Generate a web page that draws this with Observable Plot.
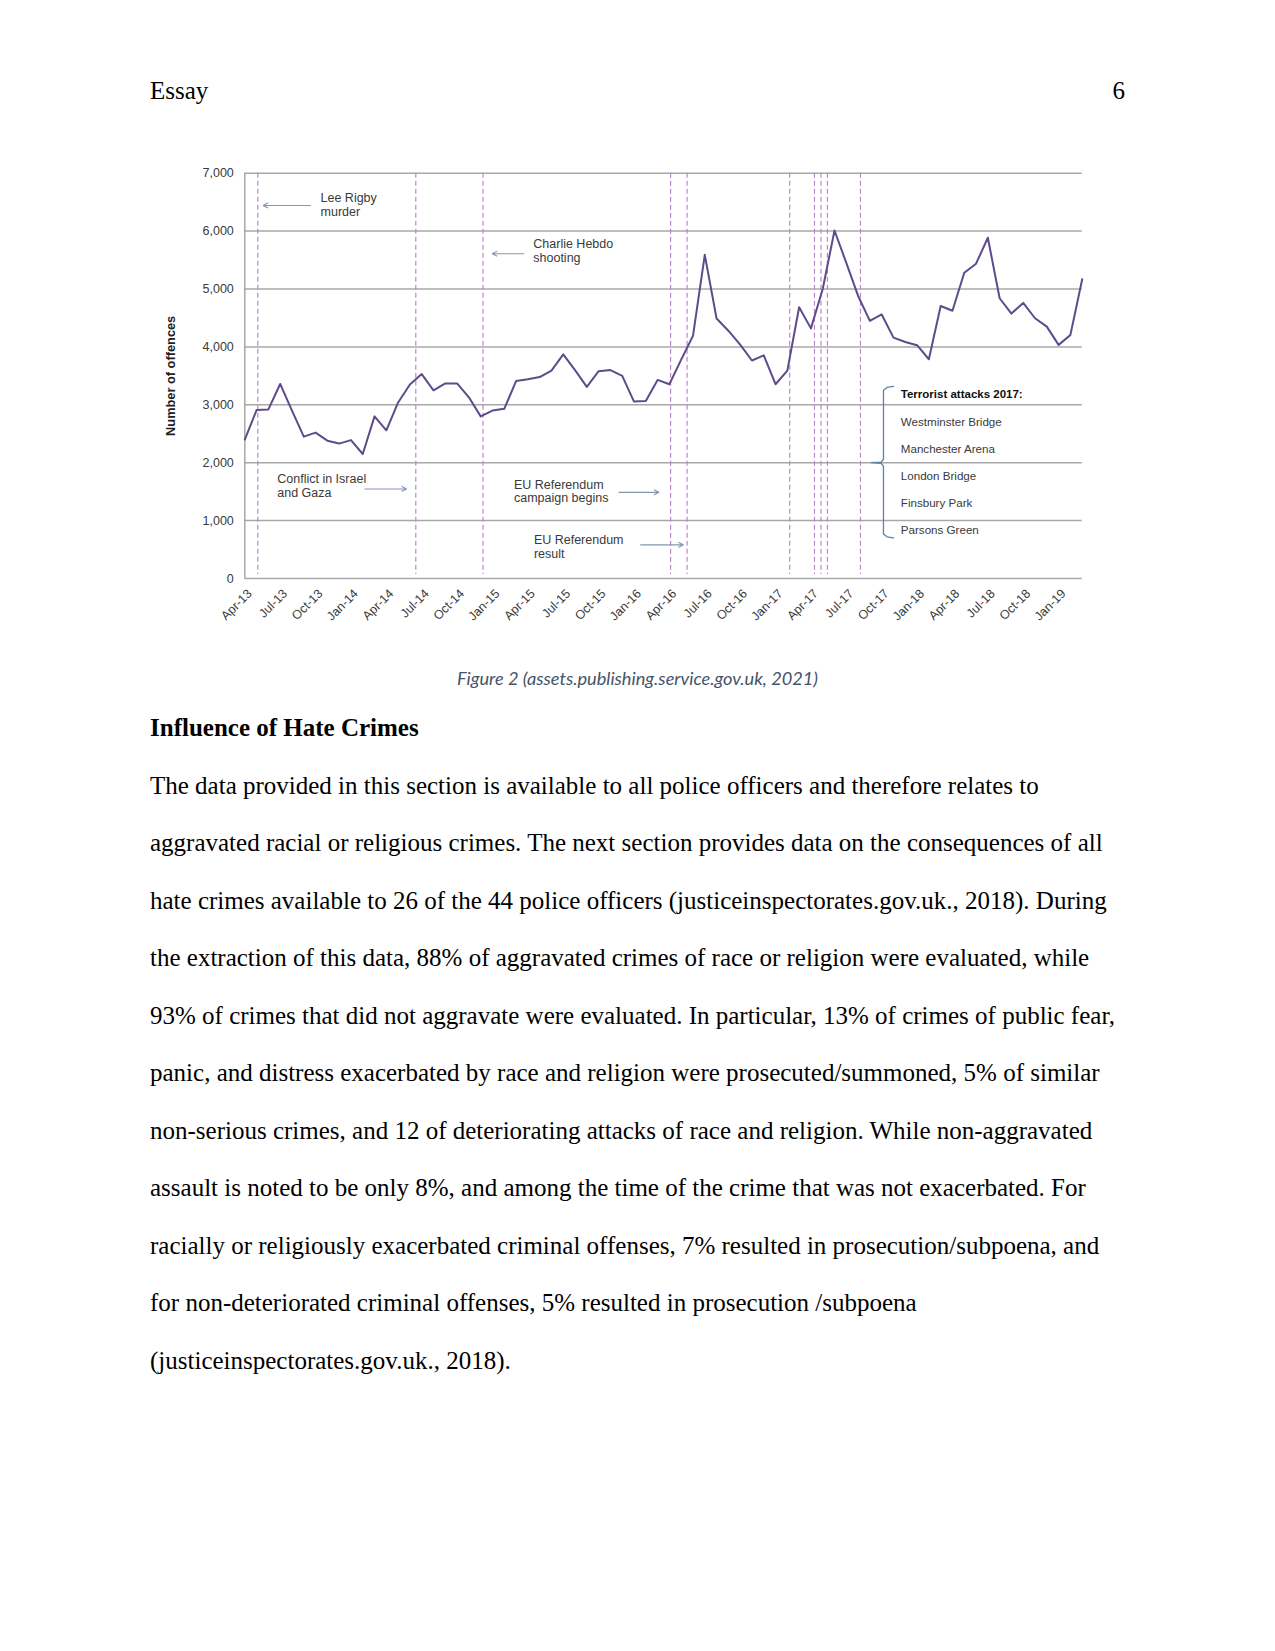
<!DOCTYPE html>
<html><head><meta charset="utf-8">
<script src="https://cdn.jsdelivr.net/npm/d3@7"></script>
<script src="https://cdn.jsdelivr.net/npm/@observablehq/plot@0.6"></script>
<style>
html,body{margin:0;padding:0;background:#fff}
body{width:1275px;height:1651px;position:relative;font-family:"Liberation Serif","Times New Roman",serif;color:#000;overflow:hidden}
.abs{position:absolute;white-space:nowrap}
.hdr{font-size:25px;line-height:25px}
.caption{left:0;width:1275px;text-align:center;top:668px;font-family:Lato,"Open Sans",sans-serif;font-style:italic;font-size:18.2px;line-height:20px;color:#44546a}
.heading{left:150px;top:715px;font-size:25px;line-height:25px;font-weight:bold}
.bodytext{left:150px;top:756.6px;font-size:25px;line-height:57.5px}
</style></head><body>
<div class="abs hdr" style="left:150px;top:78px">Essay</div>
<div class="abs hdr" style="left:1000px;width:125px;text-align:right;top:78px">6</div>
<div id="chart" class="abs" style="left:150px;top:150px"></div>
<div class="abs caption">Figure 2 (assets.publishing.service.gov.uk, 2021)</div>
<div class="abs heading">Influence of Hate Crimes</div>
<div class="abs bodytext">
<div>The data provided in this section is available to all police officers and therefore relates to</div>
<div>aggravated racial or religious crimes. The next section provides data on the consequences of all</div>
<div>hate crimes available to 26 of the 44 police officers (justiceinspectorates.gov.uk., 2018). During</div>
<div>the extraction of this data, 88% of aggravated crimes of race or religion were evaluated, while</div>
<div>93% of crimes that did not aggravate were evaluated. In particular, 13% of crimes of public fear,</div>
<div>panic, and distress exacerbated by race and religion were prosecuted/summoned, 5% of similar</div>
<div>non-serious crimes, and 12 of deteriorating attacks of race and religion. While non-aggravated</div>
<div>assault is noted to be only 8%, and among the time of the crime that was not exacerbated. For</div>
<div>racially or religiously exacerbated criminal offenses, 7% resulted in prosecution/subpoena, and</div>
<div>for non-deteriorated criminal offenses, 5% resulted in prosecution /subpoena</div>
<div>(justiceinspectorates.gov.uk., 2018).</div>
</div>
<script>
// Monthly race/religious hate crime offences, Apr-13 .. Mar-19 (index 0..71)
const offences = [
  2400,2910,2920,3360,2900,2450,2520,2380,2330,2390,
  2150,2800,2560,3040,3350,3530,3250,3370,3370,3130,
  2800,2900,2930,3410,3440,3480,3590,3870,3600,3310,
  3580,3600,3500,3055,3065,3430,3355,3780,4190,5590,
  4490,4280,4040,3765,3855,3355,3590,4685,4320,5000,
  6010,5450,4880,4450,4560,4160,4085,4030,3787,4707,
  4625,5280,5437,5885,4840,4575,4760,4495,4350,4035,
  4207,5167
];
const tickLabels = ["Apr-13","Jul-13","Oct-13","Jan-14","Apr-14","Jul-14","Oct-14","Jan-15",
  "Apr-15","Jul-15","Oct-15","Jan-16","Apr-16","Jul-16","Oct-16","Jan-17","Apr-17","Jul-17",
  "Oct-17","Jan-18","Apr-18","Jul-18","Oct-18","Jan-19"];
const yTicks = [0,1000,2000,3000,4000,5000,6000,7000];
const yTitle = "Number of offences";
// event marker lines (month index)
const events = [
  {name:"Lee Rigby murder", at:1.1},
  {name:"Conflict in Israel and Gaza", at:14.5},
  {name:"Charlie Hebdo shooting", at:20.2},
  {name:"EU Referendum campaign begins", at:36.1},
  {name:"EU Referendum result", at:37.5},
  {name:"Westminster Bridge", at:46.2},
  {name:"Manchester Arena", at:48.3},
  {name:"London Bridge", at:48.85},
  {name:"Finsbury Park", at:49.4},
  {name:"Parsons Green", at:52.2}
];
// annotation labels (month index, offences)
const notes = [
  {text:"Lee Rigby\nmurder", x:6.42, y:6460},
  {text:"Charlie Hebdo\nshooting", x:24.46, y:5660},
  {text:"Conflict in Israel\nand Gaza", x:2.75, y:1600},
  {text:"EU Referendum\ncampaign begins", x:22.82, y:1510},
  {text:"EU Referendum\nresult", x:24.51, y:555}
];
const arrows = [
  {x1:5.57, x2:1.56, y:6443},
  {x1:23.66, x2:20.98, y:5609},
  {x1:10.18, x2:13.71, y:1547},
  {x1:31.72, x2:35.11, y:1488},
  {x1:33.56, x2:37.18, y:581}
];
const attackTitle = "Terrorist attacks 2017:";
const attackList = ["Westminster Bridge","Manchester Arena","London Bridge","Finsbury Park","Parsons Green"];
const bracket = [
  {x:55.0,y:3320},{x:54.45,y:3300},{x:54.15,y:3250},{x:54.15,y:2060},{x:53.95,y:2010},{x:53.1,y:2000},
  {x:53.95,y:1990},{x:54.15,y:1940},{x:54.15,y:770},{x:54.45,y:720},{x:55.0,y:700}
];

const fmt = d3.format(",");
const grey = "#3a3a3a";
const plot = Plot.plot({
  width:950, height:490,
  marginLeft:94.3, marginRight:18.3, marginTop:22.7, marginBottom:62,
  x:{type:"linear", domain:[0,71], axis:null},
  y:{domain:[0,7000], axis:null},
  style:{fontFamily:'"Liberation Sans", Arial, sans-serif', fontSize:"12.5px", color:grey, background:"white", overflow:"visible"},
  marks:[
    Plot.ruleY(yTicks, {y:d=>d, stroke:"#a8a8a8", strokeWidth:1.5}),
    Plot.ruleX([0], {x:d=>d, stroke:"#a8a8a8", strokeWidth:1.5}),
    Plot.ruleX(events, {x:"at", stroke:"#bf85d0", strokeWidth:1.2, strokeDasharray:"5,3", insetBottom:4}),
    Plot.text(yTicks, {y:d=>d, frameAnchor:"left", dx:-11, textAnchor:"end", text:d=>fmt(d), fill:grey}),
    Plot.text(tickLabels, {x:(d,i)=>i*3, frameAnchor:"bottom", text:d=>d, rotate:-45, textAnchor:"end", lineAnchor:"middle", dx:5, dy:13, fill:grey}),
    Plot.text([yTitle], {frameAnchor:"left", dx:-74, rotate:-90, textAnchor:"middle", text:d=>d, fontWeight:"bold", fontSize:12.8, fill:"#222"}),
    Plot.line(offences, {x:(d,i)=>i, y:d=>d, stroke:"#5d4b8c", strokeWidth:2}),
    Plot.text(notes, {x:"x", y:"y", text:"text", textAnchor:"start", lineAnchor:"middle", lineHeight:1.1, fill:grey}),
    Plot.arrow(arrows, {x1:"x1", x2:"x2", y1:"y", y2:"y", stroke:"#8497b0", strokeWidth:1.1, headLength:7, headAngle:55}),
    Plot.line(bracket, {x:"x", y:"y", stroke:"#5f82a8", strokeWidth:1.3}),
    Plot.text([attackTitle], {x:()=>55.62, y:()=>3185, text:d=>d, textAnchor:"start", lineAnchor:"middle", fontWeight:"bold", fontSize:11.5, fill:"#111"}),
    Plot.text([attackList.join("\n")], {x:()=>55.62, y:()=>1852, text:d=>d, textAnchor:"start", lineAnchor:"middle", lineHeight:2.33, fontSize:11.6, fill:grey})
  ]
});
document.getElementById("chart").appendChild(plot);
</script>
</body></html>
